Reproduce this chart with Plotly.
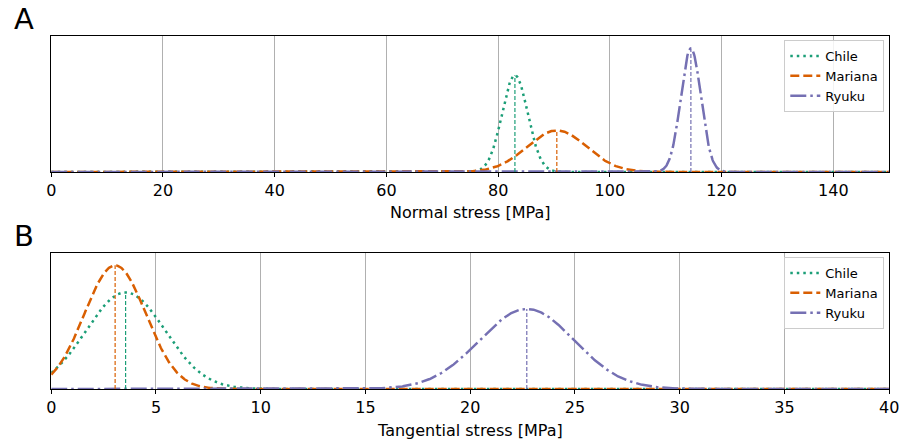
import numpy as np
import plotly.graph_objects as go

# ---- data (Gaussian parameters) ----
regions = ["Chile", "Mariana", "Ryuku"]
colors = ["#1b9e77", "#d95f02", "#7570b3"]
normal_mean = [83.0, 90.5, 114.5]
normal_std = [2.3, 5.35, 1.8]
tangential_mean = [3.55, 3.05, 22.7]
tangential_std = [1.88, 1.47, 2.27]
normal_ticks = [0, 20, 40, 60, 80, 100, 120, 140]
tangential_ticks = [0, 5, 10, 15, 20, 25, 30, 35, 40]

dashes = ["2.5px,4px", "9px,4px", "16px,4px,2.5px,4px"]
W, H = 912, 442
FONT = "DejaVu Sans"


def pdf(x, m, s):
    return np.exp(-0.5 * ((x - m) / s) ** 2) / (s * np.sqrt(2 * np.pi))


fig = go.Figure()

panels = [
    dict(means=normal_mean, stds=normal_std, xr=[0, 150], ticks=normal_ticks,
         xa="x", ya="y", legend="legend"),
    dict(means=tangential_mean, stds=tangential_std, xr=[0, 40], ticks=tangential_ticks,
         xa="x2", ya="y2", legend="legend2"),
]

ymax = []
for p in panels:
    xs = np.linspace(p["xr"][0], p["xr"][1], 1500)
    peaks = []
    for name, c, d, m, s in zip(regions, colors, dashes, p["means"], p["stds"]):
        fig.add_trace(go.Scatter(x=xs, y=pdf(xs, m, s), mode="lines", name=name,
                                 line=dict(color=c, width=2.5, dash=d),
                                 xaxis=p["xa"], yaxis=p["ya"], legend=p["legend"]))
        peaks.append(pdf(m, m, s))
    for c, m, pk in zip(colors, p["means"], peaks):
        fig.add_trace(go.Scatter(x=[m, m], y=[0, pk], mode="lines", showlegend=False,
                                 line=dict(color=c, width=1.2, dash="4px,2px"),
                                 xaxis=p["xa"], yaxis=p["ya"], hoverinfo="skip"))
    ymax.append(max(peaks) * 1.1)

xd = [47 / W, 899 / W]
axA = [1 - 172 / H, 1 - 36 / H]
axB = [1 - 389 / H, 1 - 253 / H]

common_x = dict(showline=True, linecolor="black", linewidth=1, mirror=True,
                ticks="outside", ticklen=4, tickwidth=1, tickcolor="black",
                showgrid=True, gridcolor="#b0b0b0", gridwidth=1, zeroline=False,
                tickfont=dict(family=FONT, size=16, color="black"))
common_y = dict(showline=True, linecolor="black", linewidth=1, mirror=True,
                showticklabels=False, ticks="", showgrid=False, zeroline=False)

legend_common = dict(xanchor="right", yanchor="top",
                     bgcolor="rgba(255,255,255,0.85)", bordercolor="#cccccc", borderwidth=1,
                     font=dict(family=FONT, size=13), tracegroupgap=0)

fig.update_layout(
    width=W, height=H, autosize=False, margin=dict(l=0, r=0, t=0, b=0),
    plot_bgcolor="white", paper_bgcolor="white",
    font=dict(family=FONT, color="black"),
    xaxis=dict(domain=xd, range=panels[0]["xr"], tickvals=normal_ticks, anchor="y", **common_x),
    yaxis=dict(domain=axA, range=[0, ymax[0]], anchor="x", **common_y),
    xaxis2=dict(domain=xd, range=panels[1]["xr"], tickvals=tangential_ticks, anchor="y2", **common_x),
    yaxis2=dict(domain=axB, range=[0, ymax[1]], anchor="x2", **common_y),
    legend=dict(x=894 / W, y=1 - 40 / H, **legend_common),
    legend2=dict(x=894 / W, y=1 - 257 / H, **legend_common),
    annotations=[
        dict(text="A", x=7 / W, y=1 - 38 / H, xref="paper", yref="paper",
             xanchor="left", yanchor="bottom", showarrow=False,
             font=dict(family=FONT, size=29)),
        dict(text="B", x=7 / W, y=1 - 255 / H, xref="paper", yref="paper",
             xanchor="left", yanchor="bottom", showarrow=False,
             font=dict(family=FONT, size=29)),
        dict(text="Normal stress [MPa]", x=(xd[0] + xd[1]) / 2, y=1 - 212 / H,
             xref="paper", yref="paper", xanchor="center", yanchor="middle",
             showarrow=False, font=dict(family=FONT, size=16)),
        dict(text="Tangential stress [MPa]", x=(xd[0] + xd[1]) / 2, y=1 - 430 / H,
             xref="paper", yref="paper", xanchor="center", yanchor="middle",
             showarrow=False, font=dict(family=FONT, size=16)),
    ],
)

fig.write_html("out.html", config={"displayModeBar": False},
               post_script="document.body.style.margin='0px';document.body.style.overflow='hidden';")
